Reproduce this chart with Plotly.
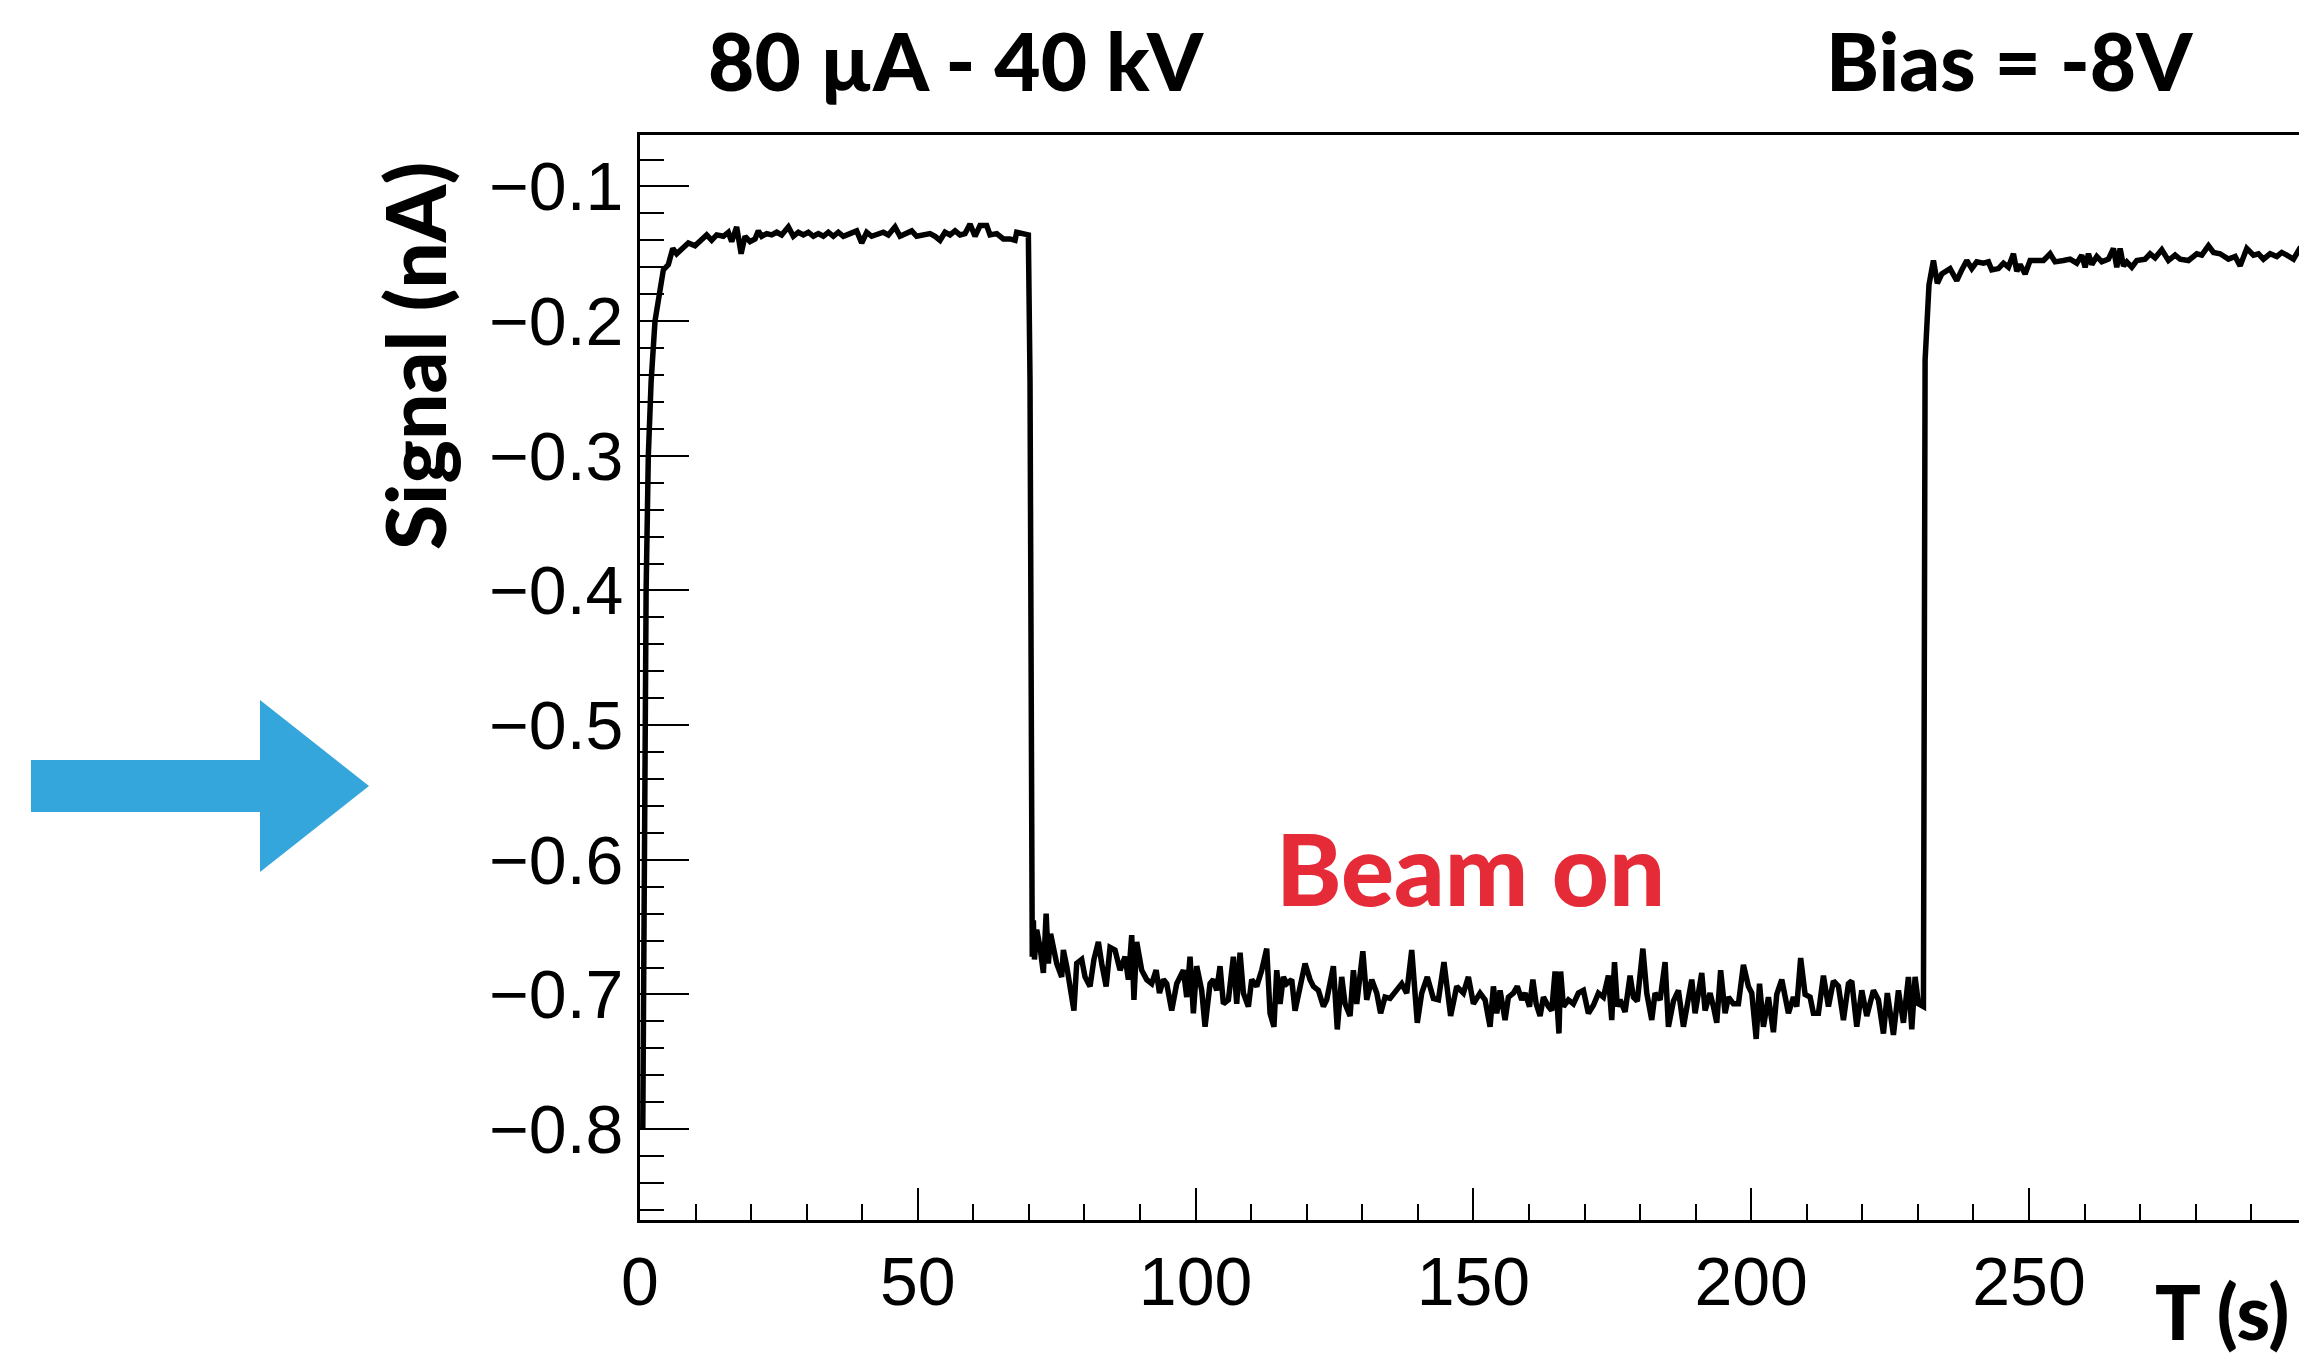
import plotly.graph_objects as go

# ---------------- data ----------------
# beam off, start-up transient and first plateau
t_off1 = [0.5, 0.6, 0.8, 0.9, 1.1, 1.5, 2.0, 2.7, 3.3, 4.2,
          5.1, 5.9, 6.6, 7.5, 8.7, 9.9, 11.1, 12.0, 12.9, 13.8,
          15.0, 15.9, 16.5, 17.4, 18.2, 18.9, 19.8, 20.7, 21.3, 21.9,
          22.8, 23.7, 24.6, 25.5, 26.7, 27.6, 28.5, 29.4, 30.3, 31.2,
          32.1, 33.0, 33.9, 34.8, 35.7, 36.6, 37.8, 39.0, 39.9, 40.8,
          41.7, 42.9, 43.8, 44.7, 45.9, 46.8, 48.0, 48.9, 49.8, 51.0,
          52.2, 53.1, 54.0, 54.9, 55.8, 56.7, 57.6, 58.5, 59.4, 60.3,
          61.2, 62.4, 63.0, 64.2, 65.4, 66.6, 67.5, 67.8, 69.0, 69.9]
sig_off1 = [-0.800, -0.700, -0.580, -0.500, -0.400, -0.300, -0.245, -0.200, -0.182, -0.162,
            -0.158, -0.146, -0.150, -0.147, -0.142, -0.144, -0.139, -0.136, -0.140, -0.136,
            -0.137, -0.134, -0.141, -0.130, -0.150, -0.137, -0.141, -0.139, -0.133, -0.137,
            -0.135, -0.136, -0.134, -0.136, -0.130, -0.137, -0.134, -0.136, -0.134, -0.137,
            -0.135, -0.137, -0.134, -0.137, -0.134, -0.137, -0.135, -0.133, -0.142, -0.134,
            -0.137, -0.135, -0.134, -0.136, -0.130, -0.137, -0.135, -0.133, -0.137, -0.136,
            -0.135, -0.137, -0.140, -0.134, -0.136, -0.133, -0.136, -0.135, -0.128, -0.137,
            -0.129, -0.129, -0.136, -0.135, -0.139, -0.139, -0.140, -0.134, -0.135, -0.136]

# beam on
t_on = [70.2, 70.4, 70.6, 70.8, 71.0, 71.4, 72.0, 72.6, 73.1, 73.5,
        73.9, 74.4, 75.0, 75.9, 76.2, 76.8, 77.4, 78.1, 78.6, 79.5,
        80.1, 81.0, 81.7, 82.5, 83.1, 83.9, 84.6, 85.5, 86.4, 87.3,
        87.9, 88.5, 88.9, 89.4, 90.3, 91.2, 92.1, 92.9, 93.5, 94.2,
        94.8, 95.7, 96.6, 97.8, 98.4, 99.0, 99.6, 100.2, 101.1, 101.7,
        102.6, 103.2, 103.8, 104.4, 105.0, 105.9, 106.8, 107.4, 108.0, 108.6,
        109.5, 110.1, 111.0, 111.9, 112.8, 113.4, 114.1, 114.6, 115.2, 115.8,
        116.4, 117.3, 117.9, 118.8, 119.7, 120.6, 121.2, 122.1, 123.0, 123.6,
        124.8, 125.5, 126.3, 126.9, 127.8, 128.4, 129.0, 130.1, 130.8, 131.7,
        132.6, 133.3, 134.1, 135.0, 136.2, 137.1, 138.0, 138.9, 139.9, 140.7,
        141.7, 142.8, 143.7, 144.7, 145.9, 147.0, 148.2, 149.1, 150.0, 151.2,
        152.1, 153.0, 153.6, 154.2, 154.8, 155.7, 156.3, 157.2, 157.9, 158.7,
        159.3, 160.1, 160.7, 161.3, 162.0, 162.6, 163.5, 164.1, 164.7, 165.4,
        165.7, 166.2, 167.1, 168.0, 168.9, 169.8, 170.7, 171.6, 172.5, 173.4,
        174.3, 174.9, 175.4, 175.9, 176.4, 177.3, 178.2, 178.8, 179.5, 180.5,
        181.2, 182.1, 182.7, 183.6, 184.5, 185.1, 186.0, 186.9, 187.8, 188.4,
        189.3, 189.9, 191.1, 191.7, 192.6, 193.2, 193.8, 194.5, 195.3, 195.9,
        196.8, 197.7, 198.6, 199.5, 200.1, 200.9, 201.5, 202.2, 203.1, 204.0,
        204.6, 205.5, 206.1, 206.7, 207.6, 208.2, 208.9, 209.7, 210.6, 211.2,
        212.1, 213.0, 213.9, 214.8, 215.7, 216.6, 217.5, 218.1, 219.0, 219.9,
        220.8, 222.0, 222.9, 223.8, 224.5, 225.6, 226.5, 227.4, 228.3, 228.9,
        229.5, 230.1, 231.0]
sig_on = [-0.245, -0.602, -0.672, -0.645, -0.674, -0.652, -0.665, -0.684, -0.640, -0.677,
          -0.655, -0.665, -0.677, -0.687, -0.667, -0.679, -0.697, -0.712, -0.677, -0.674,
          -0.687, -0.694, -0.674, -0.661, -0.677, -0.694, -0.665, -0.667, -0.682, -0.672,
          -0.689, -0.656, -0.704, -0.661, -0.682, -0.689, -0.692, -0.682, -0.699, -0.689,
          -0.692, -0.712, -0.692, -0.682, -0.702, -0.672, -0.714, -0.679, -0.697, -0.724,
          -0.692, -0.689, -0.697, -0.679, -0.707, -0.704, -0.672, -0.707, -0.669, -0.699,
          -0.709, -0.689, -0.694, -0.682, -0.666, -0.714, -0.724, -0.682, -0.707, -0.687,
          -0.692, -0.689, -0.712, -0.692, -0.677, -0.689, -0.694, -0.697, -0.709, -0.704,
          -0.679, -0.726, -0.687, -0.707, -0.716, -0.682, -0.707, -0.668, -0.704, -0.689,
          -0.699, -0.714, -0.702, -0.703, -0.697, -0.692, -0.699, -0.667, -0.721, -0.699,
          -0.687, -0.703, -0.704, -0.676, -0.716, -0.694, -0.699, -0.687, -0.707, -0.699,
          -0.704, -0.724, -0.694, -0.714, -0.697, -0.719, -0.702, -0.699, -0.694, -0.704,
          -0.699, -0.709, -0.689, -0.707, -0.716, -0.702, -0.709, -0.712, -0.683, -0.729,
          -0.683, -0.709, -0.704, -0.707, -0.699, -0.697, -0.714, -0.708, -0.699, -0.702,
          -0.686, -0.719, -0.676, -0.709, -0.704, -0.713, -0.686, -0.702, -0.705, -0.666,
          -0.699, -0.719, -0.699, -0.704, -0.676, -0.724, -0.705, -0.697, -0.724, -0.709,
          -0.689, -0.714, -0.684, -0.712, -0.699, -0.709, -0.721, -0.682, -0.714, -0.702,
          -0.707, -0.707, -0.678, -0.694, -0.699, -0.733, -0.692, -0.724, -0.702, -0.728,
          -0.700, -0.689, -0.702, -0.714, -0.702, -0.709, -0.673, -0.700, -0.702, -0.714,
          -0.714, -0.686, -0.709, -0.690, -0.694, -0.719, -0.692, -0.690, -0.724, -0.697,
          -0.716, -0.697, -0.704, -0.729, -0.699, -0.730, -0.697, -0.721, -0.687, -0.726,
          -0.687, -0.707, -0.709]

# beam off again, second plateau
t_off2 = [231.3, 232.0, 232.8, 233.5, 234.3, 235.8, 237.0, 237.9, 238.8, 239.7,
          240.6, 241.8, 242.7, 243.3, 244.5, 245.4, 246.3, 247.2, 247.8, 248.4,
          249.3, 250.2, 251.4, 252.6, 253.8, 254.7, 256.2, 257.4, 258.6, 259.5,
          260.1, 260.7, 261.3, 262.2, 263.1, 264.3, 265.2, 265.8, 266.4, 267.0,
          267.6, 268.5, 269.4, 270.9, 271.8, 272.7, 273.9, 275.1, 276.3, 277.2,
          278.7, 280.2, 281.1, 282.3, 283.2, 284.4, 285.9, 287.1, 288.0, 289.2,
          290.4, 291.3, 292.2, 293.4, 294.6, 295.5, 296.4, 297.6, 298.6, 299.5]
sig_off2 = [-0.229, -0.173, -0.155, -0.172, -0.165, -0.161, -0.170, -0.162, -0.155, -0.161,
            -0.156, -0.157, -0.156, -0.162, -0.161, -0.157, -0.160, -0.150, -0.163, -0.158,
            -0.165, -0.155, -0.155, -0.155, -0.150, -0.156, -0.155, -0.154, -0.157, -0.151,
            -0.160, -0.150, -0.158, -0.152, -0.156, -0.154, -0.146, -0.160, -0.146, -0.159,
            -0.156, -0.160, -0.155, -0.154, -0.150, -0.153, -0.147, -0.155, -0.151, -0.154,
            -0.155, -0.150, -0.151, -0.144, -0.149, -0.150, -0.154, -0.152, -0.159, -0.146,
            -0.151, -0.150, -0.154, -0.150, -0.152, -0.149, -0.151, -0.154, -0.147, -0.150]

x_ticks = [0, 50, 100, 150, 200, 250]
y_ticks = [-0.1, -0.2, -0.3, -0.4, -0.5, -0.6, -0.7, -0.8]

time_s = t_off1 + t_on + t_off2
signal_nA = sig_off1 + sig_on + sig_off2

# ---------------- layout geometry (pixels) ----------------
W, H = 2299, 1358
L, R, T, B = 640, 0, 135, 138
PW, PH = W - L - R, H - T - B


def px(x):
    return (x - L) / PW


def py(y):
    return (H - B - y) / PH


fig = go.Figure()
fig.add_trace(go.Scatter(x=time_s, y=signal_nA, mode="lines",
                         line=dict(color="black", width=5.5),
                         hoverinfo="skip", showlegend=False))

tickfont = dict(family="Liberation Sans, Arial, Helvetica", size=68, color="black")
fig.update_layout(
    width=W, height=H,
    margin=dict(l=L, r=R, t=T, b=B, pad=0),
    paper_bgcolor="white", plot_bgcolor="white",
    showlegend=False,
    xaxis=dict(range=[0, (W - L) / 5.556], tickvals=x_ticks, ticks="inside",
               ticklen=32, tickwidth=2, tickcolor="black",
               minor=dict(dtick=10, tick0=0, ticks="inside", ticklen=16,
                          tickwidth=2, tickcolor="black"),
               showline=True, linecolor="black", linewidth=3, mirror=True,
               showgrid=False, zeroline=False, tickfont=tickfont),
    yaxis=dict(range=[-0.8675, -0.0618], tickvals=y_ticks, ticks="inside",
               ticklen=49, tickwidth=2, tickcolor="black",
               minor=dict(dtick=0.02, tick0=0, ticks="inside", ticklen=24,
                          tickwidth=2, tickcolor="black"),
               showline=True, linecolor="black", linewidth=3, mirror=False,
               showgrid=False, zeroline=False, tickfont=tickfont),
)

heavy = "Lato, Noto Sans, sans-serif"
ann = [
    dict(text="80 µA - 40 kV", x=px(956), y=py(59.5), size=80, color="black", angle=0,
         xanchor="center", yanchor="middle"),
    dict(text="Bias = -8V", x=px(2009), y=py(59.5), size=80, color="black", angle=0,
         xanchor="center", yanchor="middle"),
    dict(text="Beam on", x=px(1470), y=py(867), size=99, color="#E52B38", angle=0,
         xanchor="center", yanchor="middle"),
    dict(text="T (s)", x=px(2290), y=py(1357), size=76, color="black", angle=0,
         xanchor="right", yanchor="bottom"),
    dict(text="Signal (nA)", x=px(414), y=py(356), size=82, color="black", angle=-90,
         xanchor="center", yanchor="middle"),
]
for a in ann:
    fig.add_annotation(text=a["text"], x=a["x"], y=a["y"], xref="paper", yref="paper",
                       xanchor=a["xanchor"], yanchor=a["yanchor"], showarrow=False,
                       textangle=a["angle"], borderpad=0,
                       font=dict(family=heavy, size=a["size"], color=a["color"],
                                 weight=900))

# blue arrow on the left
arrow_pts = [(31, 760), (260, 760), (260, 700), (369, 786), (260, 872), (260, 812), (31, 812)]
path = "M " + " L ".join(f"{px(x):.5f},{py(y):.5f}" for x, y in arrow_pts) + " Z"
fig.add_shape(type="path", path=path, xref="paper", yref="paper",
              fillcolor="#35A6DB", line=dict(width=0), layer="above")

fig.write_html("out.html", config={"displayModeBar": False},
               post_script="document.body.style.margin='0';document.body.style.overflow='hidden';")
